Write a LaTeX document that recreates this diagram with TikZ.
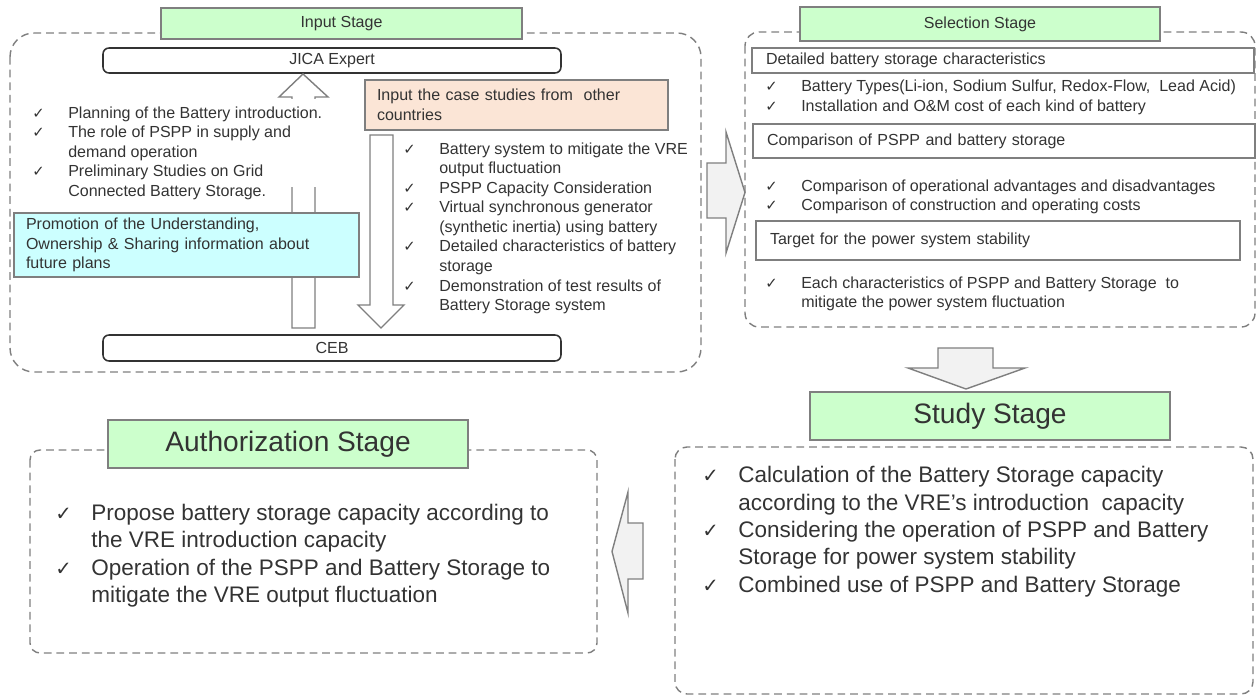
\documentclass[tikz,border=0pt]{standalone}
\usepackage{fontspec}
\setmainfont{Liberation Sans}
\newfontfamily\symfont{DejaVu Sans}

\definecolor{stagegreen}{HTML}{CCFFCC}
\definecolor{promocyan}{HTML}{CCFFFF}
\definecolor{casepeach}{HTML}{FBE5D6}
\definecolor{arrowfill}{HTML}{F2F2F2}
\definecolor{linegray}{HTML}{7F7F7F}
\definecolor{textgray}{HTML}{333333}

% check mark in front of each item
\newcommand{\chk}[1][10.5]{{\symfont\fontsize{#1}{#1}\selectfont ✓}}

\begin{document}
\begin{tikzpicture}[
    every node/.style={text=textgray, font=\fontsize{11.4}{13.9}\selectfont},
    frame/.style={draw=linegray, line width=1pt, dash pattern=on 5.5pt off 3.5pt},
    stagetitle/.style={draw=linegray, fill=stagegreen, line width=1.4pt, inner sep=0pt, minimum width=9cm},
    bigtext/.style={font=\fontsize{16}{19.5}\selectfont},
    titletext/.style={font=\fontsize{20}{24}\selectfont},
    partybox/.style={draw=textgray, line width=1.1pt, rounded corners=0.15cm, minimum width=11.45cm, inner sep=0pt},
    topicbox/.style={draw=linegray, line width=1.4pt, inner xsep=0.35cm, inner ysep=0pt, align=left},
    notebox/.style={draw=linegray, line width=1pt, inner xsep=0.3cm, inner ysep=0pt, align=left},
    ticklist/.style={anchor=west, inner sep=0pt},
    blockarrow/.style={draw=linegray, line width=1pt, fill=arrowfill, line join=miter}
]
\useasboundingbox (0,0) rectangle (31.425,17.425);

%% input stage
\draw[frame, rounded corners=0.6cm] (0.25,16.6) rectangle (17.525,8.125);
\node[stagetitle, minimum height=0.775cm, minimum width=9.025cm] (inputtitle) at (8.5375,16.8375) {Input Stage};
\node[partybox, minimum height=0.625cm] (jica) at (8.3,15.9125) {JICA Expert};
\node[partybox, minimum height=0.65cm] (ceb) at (8.3,8.725) {CEB};

% hollow arrows between CEB and the expert
\draw[blockarrow, fill=white] (7.575,15.575) -- (8.2,15.0) -- (7.875,15.0) -- (7.875,9.225) -- (7.3,9.225) -- (7.3,15.0) -- (6.975,15.0) -- cycle;
\fill[white] (7.2,14.96) rectangle (7.98,12.75);
\draw[blockarrow, fill=white] (9.25,14.05) -- (9.825,14.05) -- (9.825,9.8) -- (10.1,9.8) -- (9.525,9.225) -- (8.95,9.8) -- (9.25,9.8) -- cycle;

\node[ticklist] (plans) at (0.8,13.5875) {%
  \begin{tabular}{@{}p{0.9cm}@{}l@{}}
    \chk & Planning of the Battery introduction.\\
    \chk & The role of PSPP in supply and\\
         & demand operation\\
    \chk & Preliminary Studies on Grid\\
         & Connected Battery Storage.
  \end{tabular}};

\node[notebox, fill=promocyan, text width=8.025cm, minimum height=1.6cm] (promo) at (4.6625,11.3)
  {Promotion of the Understanding,\\Ownership \& Sharing information about\\future plans};

\node[notebox, fill=casepeach, text width=6.975cm, minimum height=1.25cm] (cases) at (12.9125,14.8)
  {Input the case studies from\ \ other\\countries};

\node[ticklist] (studies) at (10.075,11.7125) {%
  \begin{tabular}{@{}p{0.9cm}@{}l@{}}
    \chk & Battery system to mitigate the VRE\\
         & output fluctuation\\
    \chk & PSPP Capacity Consideration\\
    \chk & Virtual synchronous generator\\
         & (synthetic inertia) using battery\\
    \chk & Detailed characteristics of battery\\
         & storage\\
    \chk & Demonstration of test results of\\
         & Battery Storage system
  \end{tabular}};

\draw[blockarrow] (17.675,13.35) -- (18.15,13.35) -- (18.15,14.125) -- (18.625,12.6125) -- (18.15,11.1) -- (18.15,11.975) -- (17.675,11.975) -- cycle;

%% selection stage
\draw[frame, rounded corners=0.35cm] (18.625,16.625) rectangle (31.375,9.25);
\node[stagetitle, minimum height=0.85cm] (seltitle) at (24.5,16.825) {Selection Stage};

\node[topicbox, text width=11.85cm, minimum height=0.625cm] (detail) at (25.075,15.9125) {Detailed battery storage characteristics};
\node[ticklist] (types) at (19.125,14.9875) {%
  \begin{tabular}{@{}p{0.9cm}@{}l@{}}
    \chk & Battery Types(Li-ion, Sodium Sulfur, Redox-Flow,\ \ Lead Acid)\\
    \chk & Installation and O\&M cost of each kind of battery
  \end{tabular}};

\node[topicbox, text width=11.85cm, minimum height=0.85cm] (compare) at (25.1,13.9) {Comparison of PSPP and battery storage};
\node[ticklist] (costs) at (19.125,12.5) {%
  \begin{tabular}{@{}p{0.9cm}@{}l@{}}
    \chk & Comparison of operational advantages and disadvantages\\
    \chk & Comparison of construction and operating costs
  \end{tabular}};

\node[topicbox, text width=11.4cm, minimum height=0.975cm] (target) at (24.95,11.4125) {Target for the power system stability};
\node[ticklist] (each) at (19.125,10.075) {%
  \begin{tabular}{@{}p{0.9cm}@{}l@{}}
    \chk & Each characteristics of PSPP and Battery Storage\ \ to\\
         & mitigate the power system fluctuation
  \end{tabular}};

\draw[blockarrow] (23.45,8.725) -- (24.825,8.725) -- (24.825,8.225) -- (25.625,8.225) -- (24.15,7.7) -- (22.7,8.225) -- (23.45,8.225) -- cycle;

%% study stage
\node[stagetitle, titletext, minimum height=1.2cm] (studytitle) at (24.75,7.025) {Study Stage};
\draw[frame, rounded corners=0.3cm] (16.875,6.25) rectangle (31.325,0.075);
\node[ticklist, bigtext] (calc) at (17.55,4.125) {%
  \begin{tabular}{@{}p{0.9cm}@{}l@{}}
    \chk[14] & Calculation of the Battery Storage capacity\\
             & according to the VRE’s introduction\ \ capacity\\
    \chk[14] & Considering the operation of PSPP and Battery\\
             & Storage for power system stability\\
    \chk[14] & Combined use of PSPP and Battery Storage
  \end{tabular}};

\draw[blockarrow] (16.075,4.35) -- (15.7,4.35) -- (15.7,5.125) -- (15.3,3.6375) -- (15.7,2.1) -- (15.7,2.95) -- (16.075,2.95) -- cycle;

%% authorization stage
\draw[frame, rounded corners=0.25cm] (0.75,6.175) rectangle (14.925,1.1);
\node[stagetitle, titletext, minimum height=1.2cm] (authtitle) at (7.2,6.325) {Authorization Stage};
\node[ticklist, bigtext] (propose) at (1.375,3.525) {%
  \begin{tabular}{@{}p{0.9cm}@{}l@{}}
    \chk[14] & Propose battery storage capacity according to\\
             & the VRE introduction capacity\\
    \chk[14] & Operation of the PSPP and Battery Storage to\\
             & mitigate the VRE output fluctuation
  \end{tabular}};
\end{tikzpicture}
\end{document}
